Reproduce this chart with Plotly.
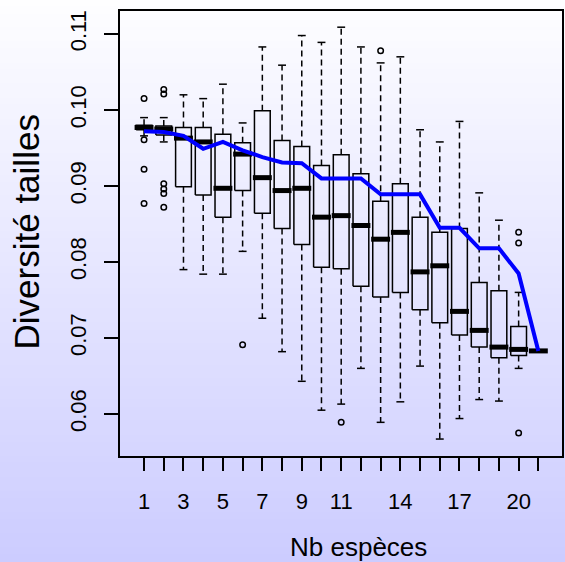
import plotly.graph_objects as go

# Nb espèces (x categories)
n_especes = list(range(1, 22))

# boxplot statistics
whisker_hi = [0.0990, 0.0990, 0.1020, 0.1015, 0.1034, 0.0983, 0.1083, 0.1059, 0.1098, 0.1089, 0.1109,
              0.1083, 0.1062, 0.1070, 0.0974, 0.0958, 0.0985, 0.0891, 0.0855, 0.0760, 0.0683]
q3 = [0.0980, 0.0979, 0.0977, 0.0977, 0.0968, 0.0957, 0.0999, 0.0960, 0.0952, 0.0927, 0.0941,
      0.0916, 0.0880, 0.0903, 0.0859, 0.0839, 0.0844, 0.0773, 0.0762, 0.0715, 0.0683]
median = [0.0977, 0.0975, 0.0963, 0.0958, 0.0897, 0.0942, 0.0911, 0.0894, 0.0897, 0.0859, 0.0861,
          0.0848, 0.0830, 0.0839, 0.0787, 0.0795, 0.0735, 0.0710, 0.0688, 0.0685, 0.0683]
q1 = [0.0974, 0.0967, 0.0899, 0.0888, 0.0859, 0.0894, 0.0864, 0.0844, 0.0823, 0.0793, 0.0791,
      0.0768, 0.0754, 0.0760, 0.0737, 0.0720, 0.0704, 0.0688, 0.0674, 0.0677, 0.0683]
whisker_lo = [0.0966, 0.0958, 0.0790, 0.0784, 0.0784, 0.0814, 0.0726, 0.0682, 0.0643, 0.0605, 0.0613,
              0.0660, 0.0589, 0.0616, 0.0663, 0.0567, 0.0594, 0.0619, 0.0617, 0.0660, 0.0683]

outlier_x = [1, 1, 1, 1, 2, 2, 2, 2, 2, 2, 6, 11, 13, 20, 20, 20]
outlier_y = [0.1015, 0.0961, 0.0922, 0.0877, 0.1027, 0.1021, 0.0903, 0.0896, 0.0890, 0.0872,
             0.0691, 0.0589, 0.1078, 0.0839, 0.0825, 0.0575]

# blue curve
courbe = [0.0972, 0.0971, 0.0966, 0.0949, 0.0958, 0.0947, 0.0938, 0.0931, 0.0930, 0.0910, 0.0910,
          0.0910, 0.0889, 0.0889, 0.0889, 0.0845, 0.0845, 0.0818, 0.0818, 0.0785, 0.0683]

x_labels = {1: "1", 3: "3", 5: "5", 7: "7", 9: "9", 11: "11", 14: "14", 17: "17", 20: "20"}

W, H = 565, 562
ML, MR, MT, MB = 120, 1, 11, 106
FONT = "Liberation Sans, Arial, sans-serif"

half = 0.4      # half box width
staple = 0.2    # half staple width

box_x, box_y = [], []
wh_x, wh_y = [], []
st_x, st_y = [], []
med_x, med_y = [], []
for k, hi, a, m, b, lo in zip(n_especes, whisker_hi, q3, median, q1, whisker_lo):
    box_x += [k - half, k + half, k + half, k - half, k - half, None]
    box_y += [b, b, a, a, b, None]
    wh_x += [k, k, None, k, k, None]
    wh_y += [a, hi, None, b, lo, None]
    st_x += [k - staple, k + staple, None, k - staple, k + staple, None]
    st_y += [hi, hi, None, lo, lo, None]
    med_x += [k - half - 0.08, k + half + 0.08, None]
    med_y += [m, m, None]

fig = go.Figure()
fig.add_trace(go.Scatter(x=wh_x, y=wh_y, mode="lines",
                         line=dict(color="black", width=1.5, dash="6px,4px")))
fig.add_trace(go.Scatter(x=st_x, y=st_y, mode="lines", line=dict(color="black", width=1.5)))
fig.add_trace(go.Scatter(x=box_x, y=box_y, mode="lines", line=dict(color="black", width=1.5)))
fig.add_trace(go.Scatter(x=med_x, y=med_y, mode="lines", line=dict(color="black", width=5)))
fig.add_trace(go.Scatter(x=outlier_x, y=outlier_y, mode="markers",
                         marker=dict(symbol="circle-open", size=5.5, color="black", line=dict(width=1.5))))
fig.add_trace(go.Scatter(x=n_especes, y=courbe, mode="lines", line=dict(color="#0000ff", width=4)))

# vertical gradient background over the whole page
pw, ph = W - ML - MR, H - MT - MB
y_top, y_bot = 1 + MT / ph, -MB / ph
n_strips = 80
top_rgb, bot_rgb = (254, 254, 255), (204, 204, 255)
shapes = []
for i in range(n_strips):
    t = (i + 0.5) / n_strips
    c = [round(top_rgb[j] + (bot_rgb[j] - top_rgb[j]) * t) for j in range(3)]
    y1 = y_top - (y_top - y_bot) * i / n_strips
    y0 = y_top - (y_top - y_bot) * (i + 1) / n_strips
    shapes.append(dict(type="rect", xref="paper", yref="paper", x0=-ML / pw - 0.01, x1=1 + MR / pw + 0.01,
                       y0=y0 - 0.002, y1=y1 + 0.002, fillcolor="rgb(%d,%d,%d)" % tuple(c),
                       line=dict(width=0), layer="below"))

fig.update_layout(
    width=W, height=H,
    margin=dict(l=ML, r=MR, t=MT, b=MB),
    paper_bgcolor="white", plot_bgcolor="rgba(0,0,0,0)",
    showlegend=False,
    hovermode=False,
    shapes=shapes,
    font=dict(family=FONT, color="black", size=22),
    annotations=[
        dict(text="Nb espèces", xref="paper", yref="paper", x=0.5405, y=-0.2045,
             showarrow=False, font=dict(size=26), xanchor="center", yanchor="middle"),
        dict(text="Diversité tailles", xref="paper", yref="paper", x=-0.212, y=0.503,
             showarrow=False, font=dict(size=35), textangle=-90, xanchor="center", yanchor="middle"),
    ],
)
fig.update_xaxes(range=[-0.22, 22.2], tickmode="array", tickvals=n_especes,
                 ticktext=[x_labels.get(k, "") for k in n_especes],
                 ticks="outside", ticklen=13, tickwidth=1.5, tickcolor="black",
                 showline=True, mirror=True, linewidth=1.5, linecolor="black",
                 showgrid=False, zeroline=False, ticklabelstandoff=12)
fig.update_yaxes(range=[0.05447, 0.11303], tickmode="array",
                 tickvals=[0.06, 0.07, 0.08, 0.09, 0.10, 0.11],
                 ticktext=["0.06", "0.07", "0.08", "0.09", "0.10", "0.11"],
                 tickangle=-90, ticks="outside", ticklen=14, tickwidth=1.5, tickcolor="black",
                 showline=True, mirror=True, linewidth=1.5, linecolor="black",
                 showgrid=False, zeroline=False, ticklabelstandoff=9)

# page body has a default 8px margin; remove it so the figure fills the window
fig.write_html("out.html", config={"displayModeBar": False},
               post_script="document.body.style.margin='0';")
